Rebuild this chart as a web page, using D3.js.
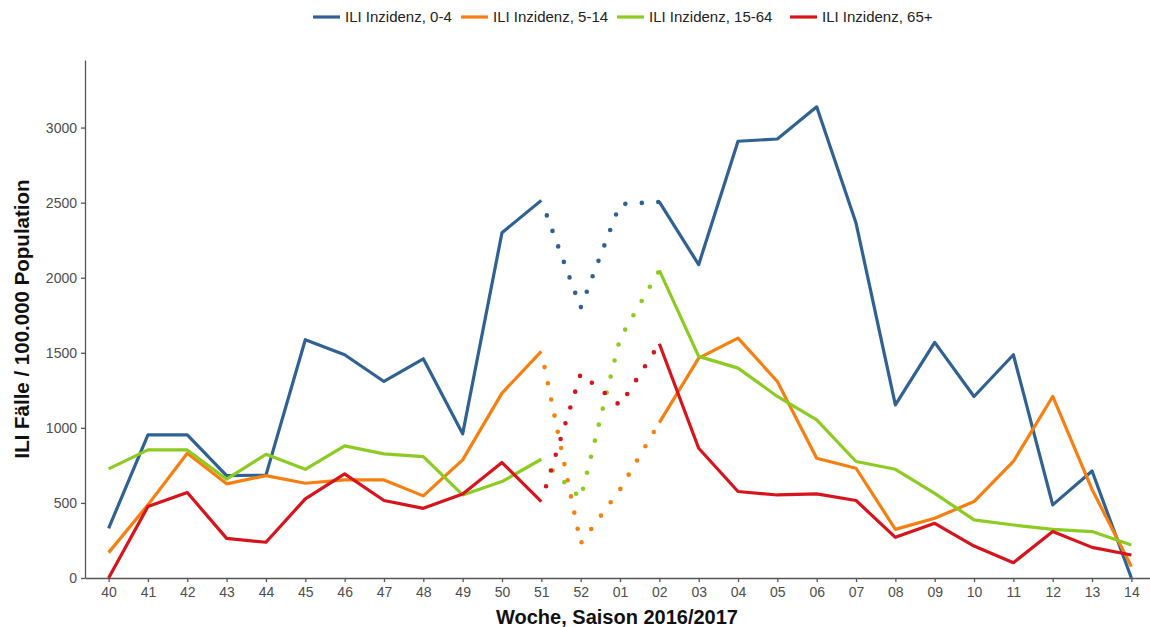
<!DOCTYPE html>
<html>
<head>
<meta charset="utf-8">
<script src="https://cdn.jsdelivr.net/npm/d3@7"></script>
<style>
  body { margin: 0; background: #fff; }
  text { font-family: "Liberation Sans", Arial, sans-serif; }
  .axis path, .axis line { stroke: #555; stroke-width: 1.3; }
  .axis text { fill: #4d4d4d; font-size: 14px; }
</style>
</head>
<body>
<div id="chart"></div>
<script>
// weekly ILI incidence per age group, season 2016/2017
var weeks = ["40","41","42","43","44","45","46","47","48","49","50","51","52",
             "01","02","03","04","05","06","07","08","09","10","11","12","13","14"];
var age0_4   = [331, 953, 953, 682, 685, 1587, 1487, 1309, 1460, 960, 2300, 2515, 1800,
                2490, 2505, 2087, 2909, 2924, 3138, 2364, 1153, 1569, 1209, 1487, 487, 713, 0];
var age5_14  = [169, 487, 831, 627, 682, 631, 653, 653, 547, 787, 1231, 1509, 230,
                590, 1035, 1464, 1598, 1309, 798, 731, 324, 398, 509, 776, 1209, 590, 76];
var age15_64 = [727, 853, 853, 658, 824, 724, 880, 827, 809, 553, 642, 791, 530,
                1595, 2049, 1476, 1398, 1209, 1053, 776, 724, 564, 387, 353, 324, 309, 220];
var age65    = [0, 476, 569, 264, 238, 527, 693, 516, 464, 560, 769, 509, 1360,
                1150, 1560, 864, 576, 553, 560, 516, 271, 364, 213, 102, 309, 204, 153];
var seriesNames = ["ILI Inzidenz, 0-4", "ILI Inzidenz, 5-14", "ILI Inzidenz, 15-64", "ILI Inzidenz, 65+"];
var colors = ["#2f6193", "#f77f0f", "#8ccc22", "#d7141c"];
var yTicks = [0, 500, 1000, 1500, 2000, 2500, 3000];

var margin = {top: 60, right: 0, bottom: 49, left: 85},
    width = 1070,
    height = 518;

var svg = d3.select("#chart").append("svg")
    .attr("width", 1150)
    .attr("height", 627);

var g = svg.append("g").attr("transform", "translate(" + margin.left + "," + margin.top + ")");

var x = d3.scalePoint().domain(weeks).range([0, width]).padding(0.6);
var y = d3.scaleLinear().domain([0, 3450]).range([height, 0]);

g.append("g").attr("class", "axis")
  .attr("transform", "translate(0," + height + ")")
  .call(d3.axisBottom(x).tickSize(4).tickSizeOuter(0).tickPadding(5));

g.append("g").attr("class", "axis")
  .call(d3.axisLeft(y).tickValues(yTicks).tickFormat(d3.format("d"))
    .tickSize(4).tickSizeOuter(0).tickPadding(4));

// axis titles
svg.append("text")
  .attr("x", 617).attr("y", 624)
  .attr("text-anchor", "middle")
  .style("font-size", "20px").style("font-weight", "bold").style("fill", "#111")
  .text("Woche, Saison 2016/2017");

svg.append("text")
  .attr("transform", "translate(29,319) rotate(-90)")
  .attr("text-anchor", "middle")
  .style("font-size", "20.5px").style("font-weight", "bold").style("fill", "#111")
  .text("ILI Fälle / 100.000 Population");

var line = d3.line()
  .x(function(d) { return x(d.w); })
  .y(function(d) { return y(d.v); });

var allSeries = [age0_4, age5_14, age15_64, age65];

allSeries.forEach(function(vals, i) {
  var pts = weeks.map(function(w, j) { return {w: w, v: vals[j]}; });
  var first = pts.slice(0, 12),   // 40..51
      gap = pts.slice(11, 15),    // 51..02, reporting gap over the holidays
      second = pts.slice(14);     // 02..14

  [first, second].forEach(function(seg) {
    g.append("path").datum(seg)
      .attr("fill", "none")
      .attr("stroke", colors[i])
      .attr("stroke-width", 3.2)
      .attr("stroke-linejoin", "round")
      .attr("d", line);
  });

  g.append("path").datum(gap)
    .attr("fill", "none")
    .attr("stroke", colors[i])
    .attr("stroke-width", 4.6)
    .attr("stroke-linecap", "round")
    .attr("stroke-dasharray", "0 16.5")
    .attr("stroke-dashoffset", -16)
    .attr("d", line);
});

// legend
var legendX = [313, 461, 617, 790];
var legend = svg.append("g");
seriesNames.forEach(function(name, i) {
  var item = legend.append("g").attr("transform", "translate(" + legendX[i] + ",17)");
  item.append("line")
    .attr("x1", 0).attr("x2", 27)
    .attr("stroke", colors[i]).attr("stroke-width", 3.2);
  item.append("text")
    .attr("x", 32).attr("y", 5)
    .style("font-size", "15px").style("fill", "#222")
    .text(name);
});
</script>
</body>
</html>
